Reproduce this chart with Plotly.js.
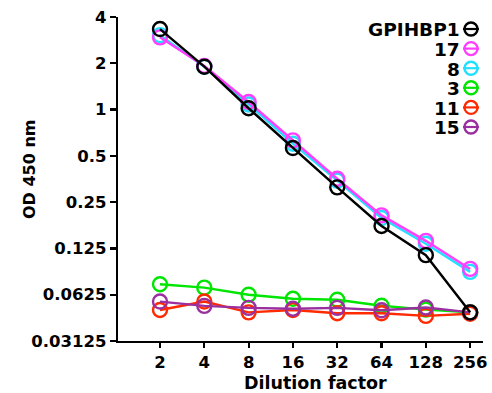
<!DOCTYPE html>
<html><head><meta charset="utf-8">
<script src="https://cdn.plot.ly/plotly-3.0.1.min.js"></script>
<style>html,body{margin:0;padding:0;background:#fff}#chart{width:492px;height:393px}</style>
</head><body><div id="chart"></div>
<script>
const dilution = [2, 4, 8, 16, 32, 64, 128, 256];
const tickLabelsX = ['2', '4', '8', '16', '32', '64', '128', '256'];
const yTickVals = [0.03125, 0.0625, 0.125, 0.25, 0.5, 1, 2, 4];
const yTickText = ['0.03125', '0.0625', '0.125', '0.25', '0.5', '1', '2', '4'];
const xTitle = 'Dilution factor';
const yTitle = 'OD 450 nm';

const seriesNames = ['GPIHBP1', '17', '8', '3', '11', '15'];
const GPIHBP1 = [3.34, 1.90, 1.02, 0.562, 0.312, 0.175, 0.113, 0.048];
const s17 = [2.95, 1.92, 1.12, 0.63, 0.355, 0.205, 0.140, 0.092];
const s8  = [3.05, 1.90, 1.08, 0.60, 0.345, 0.197, 0.134, 0.088];
const s3  = [0.0731, 0.0695, 0.0625, 0.0588, 0.0580, 0.0530, 0.0500, 0.0480];
const s11 = [0.0497, 0.0564, 0.0480, 0.0497, 0.0474, 0.0474, 0.0455, 0.0470];
const s15 = [0.0564, 0.0529, 0.0513, 0.0507, 0.0513, 0.0495, 0.0516, 0.0480];

const colors = {GPIHBP1:'#000000', '17':'#ff3dff', '8':'#22e0ff', '3':'#00e600', '11':'#ff2a00', '15':'#9a30a0'};
const values = {GPIHBP1:GPIHBP1, '17':s17, '8':s8, '3':s3, '11':s11, '15':s15};
const drawOrder = ['3', '11', '15', '8', '17', 'GPIHBP1'];

const traces = drawOrder.map(n => ({
  type: 'scatter', mode: 'lines+markers', name: n,
  x: dilution, y: values[n],
  line: {color: colors[n], width: 2.4},
  marker: {symbol: 'circle-open', size: 14, color: colors[n], line: {width: 2.4, color: colors[n]}},
  cliponaxis: false, showlegend: false
}));

// plot area in pixels
const L = 118, R = 483, T = 17, B = 341;
const px = v => (v - L) / (R - L);
const py = v => (B - v) / (B - T);

const fam = 'DejaVu Sans, Verdana, sans-serif';
const tickFont = {family: fam, size: 16.5, color: '#000', weight: 700};
const legFont = {family: fam, size: 18.5, color: '#000', weight: 700};
const titleFont = {family: fam, size: 17.5, color: '#000', weight: 700};
const annotations = [];
const shapes = [];
seriesNames.forEach((n, i) => {
  const yc = 29 + i * 19.6;
  annotations.push({xref:'paper', yref:'paper', x: px(462), y: py(yc + 1), xanchor:'right', yanchor:'middle',
    text: n, showarrow:false, font: legFont});
  shapes.push({type:'line', xref:'paper', yref:'paper', x0: px(463), x1: px(479), y0: py(yc), y1: py(yc),
    line:{color: colors[n], width: 2.2}});
  shapes.push({type:'circle', xref:'paper', yref:'paper', x0: px(464.5), x1: px(477.5), y0: py(yc+6.5), y1: py(yc-6.5),
    line:{color: colors[n], width: 2.4}});
});
annotations.push({xref:'paper', yref:'paper', x: px(315), y: py(383), xanchor:'center', yanchor:'middle',
  text: xTitle, showarrow:false, font: titleFont});
annotations.push({xref:'paper', yref:'paper', x: px(29), y: py(170), xanchor:'center', yanchor:'middle',
  text: yTitle, textangle: -90, showarrow:false, font: {family: fam, size: 16, color: '#000', weight: 700}});

const layout = {
  width: 492, height: 393,
  margin: {l: L, r: 492 - R, t: T, b: 393 - B, pad: 0},
  paper_bgcolor: '#fff', plot_bgcolor: '#fff',
  showlegend: false,
  font: tickFont,
  xaxis: {
    type: 'log', range: [Math.log10(Math.pow(2, 0.052)), Math.log10(Math.pow(2, 8.29))],
    tickvals: dilution, ticktext: tickLabelsX,
    showgrid: false, zeroline: false, showline: true, linecolor: '#000', linewidth: 2.2,
    ticks: 'outside', ticklen: 5, tickwidth: 2.2, tickcolor: '#000',
    tickfont: tickFont
  },
  yaxis: {
    type: 'log', range: [Math.log10(0.03125), Math.log10(4)],
    tickvals: yTickVals, ticktext: yTickText,
    showgrid: false, zeroline: false, showline: true, linecolor: '#000', linewidth: 2.2,
    ticks: 'outside', ticklen: 6, tickwidth: 2.2, tickcolor: '#000',
    tickfont: tickFont
  },
  annotations: annotations,
  shapes: shapes
};

Plotly.newPlot('chart', traces, layout, {displayModeBar: false, staticPlot: true});
</script>
</body></html>
